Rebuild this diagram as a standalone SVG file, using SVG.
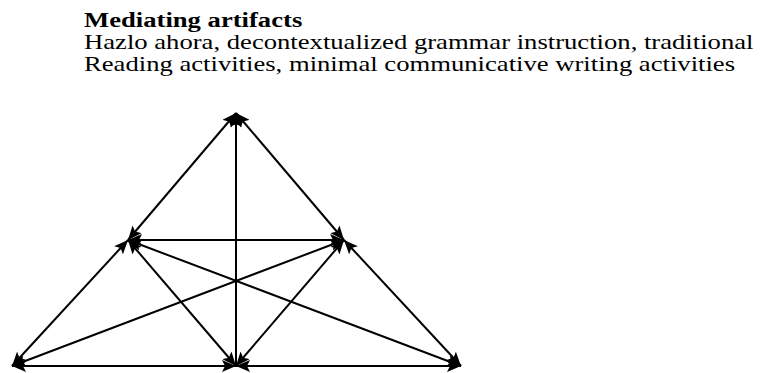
<svg xmlns="http://www.w3.org/2000/svg" width="760" height="373" viewBox="0 0 760 373">
  <style>
    .t { font-family: "Liberation Serif", "Times New Roman", serif; font-size: 20.5px; fill: #000; }
    .b { font-weight: bold; }
    .e { stroke: #000; stroke-width: 2; fill: none; }
    .both { marker-start: url(#ah); marker-end: url(#ah); }
    .end { marker-end: url(#ah); }
  </style>
  <defs>
    <marker id="ah" markerUnits="userSpaceOnUse" markerWidth="14" markerHeight="12" refX="14" refY="6" orient="auto-start-reverse" viewBox="0 0 14 12">
      <path d="M0,0 L14,6 L0,12 L3,6 z" fill="#000"/>
    </marker>
  </defs>
  <rect width="760" height="373" fill="#fff"/>
  <g id="mediating-artifacts" transform="translate(84,0) scale(1.3,1)">
    <text class="t b" x="0" y="27">Mediating artifacts</text>
    <text class="t" x="0" y="49">Hazlo ahora, decontextualized grammar instruction, traditional</text>
    <text class="t" x="0" y="71">Reading activities, minimal communicative writing activities</text>
  </g>
  <g id="connectors">
    <line class="e both" x1="128" y1="240" x2="236" y2="113"/>
    <line class="e both" x1="344" y1="240" x2="236" y2="113"/>
    <line class="e end" x1="236" y1="366" x2="236" y2="113"/>
    <line class="e both" x1="128" y1="240" x2="344" y2="240"/>
    <line class="e both" x1="12" y1="366" x2="128" y2="240"/>
    <line class="e both" x1="236" y1="366" x2="128" y2="240"/>
    <line class="e both" x1="128" y1="240" x2="461" y2="366"/>
    <line class="e both" x1="344" y1="240" x2="12" y2="366"/>
    <line class="e both" x1="236" y1="366" x2="344" y2="240"/>
    <line class="e both" x1="461" y1="366" x2="344" y2="240"/>
    <line class="e both" x1="12" y1="366" x2="236" y2="366"/>
    <line class="e both" x1="461" y1="366" x2="236" y2="366"/>
  </g>
</svg>
